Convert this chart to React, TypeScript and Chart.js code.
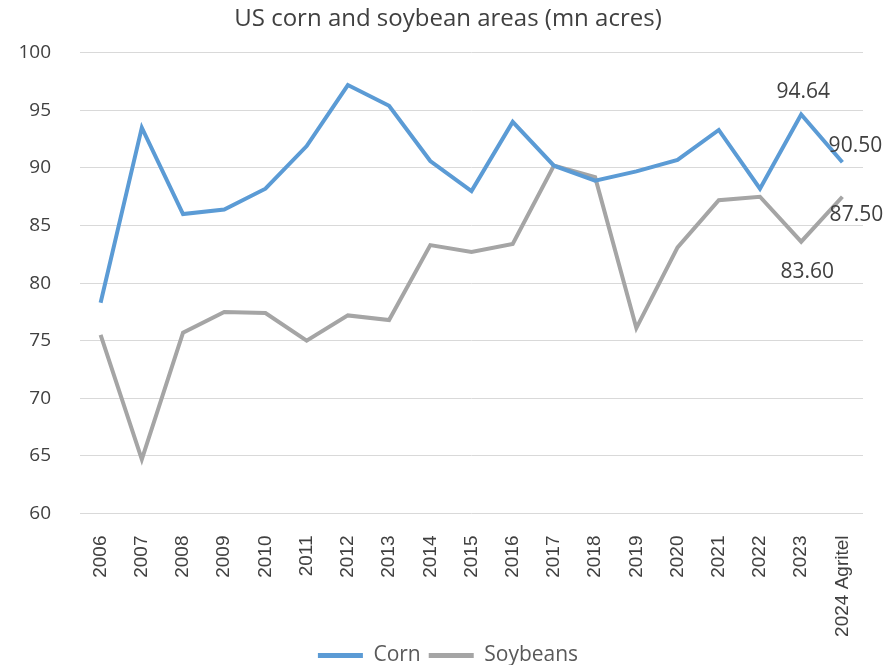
import React, { useEffect, useRef } from 'react';
import { Chart, registerables } from 'chart.js';

Chart.register(...registerables);

const categories = [
  '2006', '2007', '2008', '2009', '2010', '2011', '2012', '2013', '2014', '2015',
  '2016', '2017', '2018', '2019', '2020', '2021', '2022', '2023', '2024 Agritel',
];

const cornValues = [
  78.3, 93.5, 86.0, 86.4, 88.2, 91.9, 97.2, 95.4, 90.6, 88.0,
  94.0, 90.2, 88.9, 89.7, 90.7, 93.3, 88.2, 94.64, 90.5,
];

const soybeanValues = [
  75.5, 64.7, 75.7, 77.5, 77.4, 75.0, 77.2, 76.8, 83.3, 82.7,
  83.4, 90.2, 89.2, 76.1, 83.1, 87.2, 87.5, 83.6, 87.5,
];

const seriesNames = ['Corn', 'Soybeans'];
const yMin = 60;
const yMax = 100;
const yStep = 5;

// points that carry a value label
const labelledPoints = [
  { ds: 0, idx: 17, dx: 2, dy: -23 },
  { ds: 0, idx: 18, dx: 13, dy: -16 },
  { ds: 1, idx: 17, dx: 6, dy: 30 },
  { ds: 1, idx: 18, dx: 14, dy: 18 },
];

const valueLabelPlugin = {
  id: 'valueLabels',
  afterDatasetsDraw(chart: any) {
    const ctx = chart.ctx;
    ctx.save();
    ctx.font = '21px "Open Sans"';
    ctx.fillStyle = '#404040';
    ctx.textAlign = 'center';
    ctx.textBaseline = 'middle';
    labelledPoints.forEach((s) => {
      const pt = chart.getDatasetMeta(s.ds).data[s.idx];
      const v = chart.data.datasets[s.ds].data[s.idx] as number;
      if (pt) ctx.fillText(v.toFixed(2), pt.x + s.dx, pt.y + s.dy);
    });
    ctx.restore();
  },
};

export default function App() {
  const canvasRef = useRef<HTMLCanvasElement | null>(null);

  useEffect(() => {
    if (!canvasRef.current) return;
    const chart = new Chart(canvasRef.current, {
      type: 'line',
      data: {
        labels: categories,
        datasets: [
          {
            label: seriesNames[0],
            data: cornValues,
            borderColor: '#5B9BD5',
            backgroundColor: '#5B9BD5',
            borderWidth: 4,
            pointRadius: 0,
            tension: 0,
          },
          {
            label: seriesNames[1],
            data: soybeanValues,
            borderColor: '#A5A5A5',
            backgroundColor: '#A5A5A5',
            borderWidth: 4,
            pointRadius: 0,
            tension: 0,
          },
        ],
      },
      options: {
        animation: false,
        responsive: true,
        maintainAspectRatio: false,
        layout: { padding: { left: 7, right: 0, top: 0, bottom: -11 } },
        plugins: {
          title: {
            display: true,
            text: 'US corn and soybean areas (mn acres)',
            color: '#404040',
            font: { family: '"Open Sans"', size: 24, weight: 'normal' },
            padding: { top: 5, bottom: 19 },
          },
          legend: {
            position: 'bottom',
            labels: {
              font: { family: '"Open Sans"', size: 21 },
              color: '#595959',
              boxWidth: 45,
              boxHeight: 5,
              padding: 8,
              generateLabels: (c: any) =>
                c.data.datasets.map((ds: any, i: number) => ({
                  text: ds.label,
                  fillStyle: ds.borderColor,
                  strokeStyle: ds.borderColor,
                  lineWidth: 0,
                  hidden: false,
                  datasetIndex: i,
                  fontColor: '#595959',
                })),
            },
          },
          tooltip: { enabled: false },
        },
        scales: {
          x: {
            offset: true,
            grid: { display: false },
            border: { display: false },
            ticks: {
              autoSkip: false,
              minRotation: 90,
              maxRotation: 90,
              padding: 14,
              color: '#404040',
              font: { family: '"Liberation Sans"', size: 19 },
            },
            afterFit: (scale: any) => {
              scale.height = 123.5;
            },
          },
          y: {
            min: yMin,
            max: yMax,
            grid: { color: '#D9D9D9', lineWidth: 1, drawTicks: false },
            border: { display: false },
            ticks: {
              stepSize: yStep,
              padding: 29,
              color: '#404040',
              font: { family: '"Open Sans"', size: 19 },
            },
            afterFit: (scale: any) => {
              scale.width = 73;
            },
          },
          yRight: {
            position: 'right',
            display: true,
            grid: { display: false, drawTicks: false },
            border: { display: false },
            ticks: { display: false },
            afterFit: (scale: any) => {
              scale.width = 26;
            },
          },
        },
      },
      plugins: [valueLabelPlugin],
    });
    return () => chart.destroy();
  }, []);

  return (
    <div style={{ position: 'fixed', left: 0, top: 0, width: 889, height: 665, background: '#fff' }}>
      <canvas ref={canvasRef} />
    </div>
  );
}
